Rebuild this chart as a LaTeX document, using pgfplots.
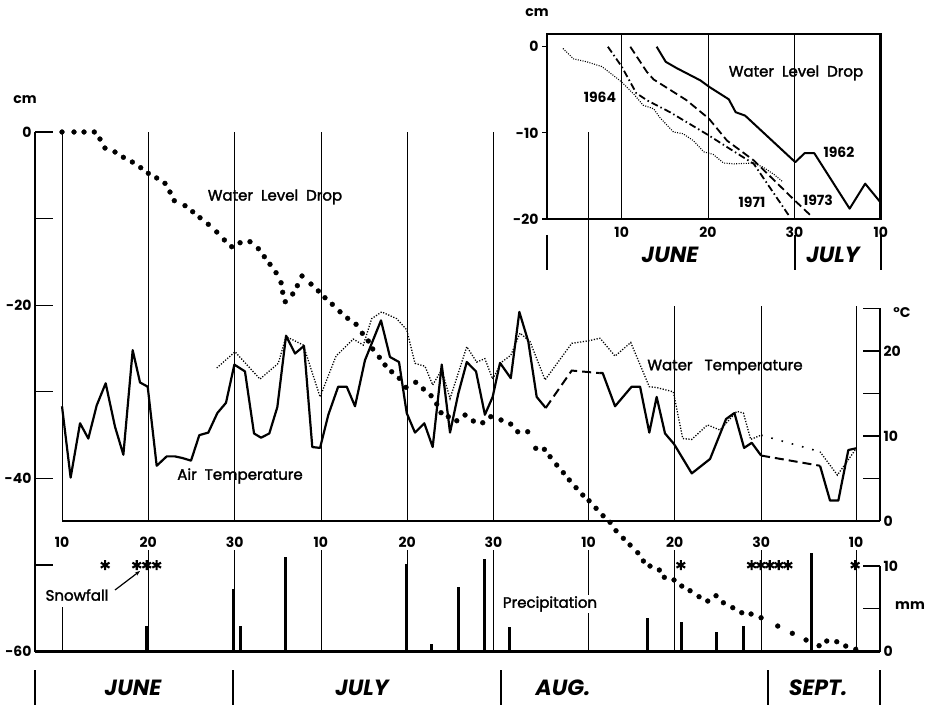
\documentclass[border=0pt]{standalone}
\usepackage{pgfplots}
\pgfplotsset{compat=1.18}
\usepackage{pgfplotstable}
\usepackage{fontspec}
\setmainfont{Poppins}
\newfontfamily\medfont{Poppins}[FakeBold=2]
\usetikzlibrary{arrows.meta}

\pgfplotstableread{
d c
10.00 0
11.39 0
12.55 0
13.74 0
14.40 -0.81
14.98 -1.85
16.14 -2.31
17.11 -2.92
18.15 -3.47
19.12 -4.12
20.00 -4.77
20.97 -5.31
21.93 -5.93
22.51 -6.93
23.01 -7.93
24.25 -8.51
25.14 -9.21
25.99 -9.90
26.95 -10.66
27.93 -11.55
28.81 -12.47
29.66 -13.25
30.63 -12.79
31.78 -12.67
32.75 -13.48
33.44 -14.40
34.10 -15.28
34.80 -16.25
35.38 -17.41
35.57 -18.51
35.87 -19.60
36.73 -18.71
37.27 -17.75
37.81 -16.63
38.85 -17.56
39.70 -18.36
40.47 -19.14
41.32 -19.90
42.21 -20.76
43.10 -21.52
44.07 -22.21
44.80 -23.25
45.49 -24.14
46.00 -25.06
46.77 -26.02
47.43 -26.91
48.20 -27.69
49.08 -28.45
49.86 -29.49
50.98 -28.91
51.87 -29.68
52.76 -30.46
53.42 -31.42
53.92 -32.42
54.76 -32.88
55.74 -33.35
56.70 -32.69
57.66 -33.38
58.75 -33.58
59.68 -32.88
60.87 -33.26
61.99 -33.73
62.80 -34.62
63.96 -34.62
64.89 -36.53
65.89 -36.65
66.55 -37.50
67.32 -38.46
68.09 -39.35
68.78 -40.19
69.56 -41.08
70.34 -41.93
71.07 -42.59
71.88 -43.46
72.69 -44.32
73.50 -45.08
74.19 -46.05
75.04 -46.93
75.82 -47.70
76.71 -48.59
77.36 -49.55
78.13 -50.13
79.21 -50.59
79.79 -51.43
80.91 -51.74
81.81 -52.44
82.77 -52.98
83.81 -53.67
84.82 -54.17
85.78 -53.56
86.63 -54.37
87.72 -54.94
88.76 -55.52
89.84 -55.67
91.00 -56.10
92.93 -57.06
94.62 -57.90
96.21 -58.67
97.72 -59.33
98.61 -58.79
99.77 -58.87
100.81 -59.37
101.97 -59.75
}\waterlevel

\pgfplotstableread{
d t
10.0 13.5
11.0 5.1
12.09 11.5
13.05 9.7
14.02 13.6
15.06 16.2
16.14 11.1
17.11 7.8
18.19 20.1
19.04 16.3
19.93 15.8
20.97 6.5
22.13 7.6
23.09 7.6
23.98 7.4
24.95 7.1
25.91 10.1
26.95 10.4
28.0 12.7
29.0 13.9
29.97 18.4
31.2 17.6
32.25 10.3
33.06 9.8
34.02 10.3
34.95 13.4
35.96 21.8
37.0 19.7
38.04 20.6
39.0 8.7
39.9 8.6
40.86 12.5
42.0 15.8
42.99 15.8
43.95 13.5
45.1 18.9
46.96 23.6
48.0 19.3
49.05 18.7
49.94 12.7
50.9 10.4
51.98 11.5
52.95 8.7
54.0 18.4
54.96 10.4
55.92 15.0
56.9 18.7
57.97 17.6
59.0 12.5
59.9 14.6
60.75 18.6
62.0 16.8
62.99 24.6
64.03 21.1
65.0 14.6
66.05 13.3
}\airA

\pgfplotstableread{
d t
72.3 17.4
72.65 17.4
74.08 13.5
76.0 15.8
76.98 15.8
78.05 10.4
78.9 14.6
79.87 10.3
80.91 9.06
82.97 5.6
85.09 7.3
86.94 12.0
87.91 12.7
89.03 8.6
89.92 9.2
91.0 7.7
}\airB

\pgfplotstableread{
d t
27.93 18.0
30.05 19.9
32.94 16.7
35.06 18.55
35.96 21.7
37.96 20.7
39.9 14.6
41.75 19.4
43.75 21.4
44.91 20.7
45.88 23.8
47.04 24.6
48.78 23.8
49.94 22.5
50.9 18.55
52.06 18.2
52.95 16.0
54.0 17.8
54.96 14.4
56.9 20.5
58.05 18.7
59.0 19.1
59.9 16.7
60.95 18.7
62.0 19.5
63.07 22.1
64.23 21.1
65.97 16.6
69.06 20.9
70.99 21.2
72.34 21.5
74.08 19.4
75.9 21.0
78.05 15.8
78.9 15.7
80.83 15.2
81.92 9.7
82.97 9.6
84.78 11.3
86.25 10.7
88.18 12.9
88.95 12.7
89.8 9.6
91.0 10.1
}\waterT

\begin{document}
\begin{tikzpicture}
\path[use as bounding box] (0pt,0pt) rectangle (928pt,709pt);

\pgfplotsset{
  numfont/.style={font=\fontsize{14}{14}\selectfont\bfseries},
}

% ---------------- cm axis (water level) ----------------
\begin{axis}[
  at={(35pt,57.5pt)}, anchor=south west,
  scale only axis, width=845pt, height=519.5pt,
  xmin=6.871, xmax=104.78, ymin=-60, ymax=0,
  axis x line*=bottom, axis y line*=left,
  x axis line style={line width=2.2pt,-},
  y axis line style={line width=2.8pt,-},
  xtick=\empty,
  ytick={-60,-50,-40,-30,-20,-10,0},
  yticklabels={-60,,-40,,-20,,0},
  tick align=inside, major tick length=18pt,
  tick style={black, line width=1.2pt},
  yticklabel style={numfont},
  clip=false,
]
\pgfplotsinvokeforeach{10,20,30,40,50,60,71}{
  \draw[line width=0.8pt] (axis cs:#1,-44.93) -- (axis cs:#1,0);
}
\pgfplotsinvokeforeach{81,91,102}{
  \draw[line width=0.8pt] (axis cs:#1,-44.93) -- (axis cs:#1,-20.1);
}
\pgfplotsinvokeforeach{20,30,40,50,60,71,81,91,102}{
  \draw[line width=0.8pt] (axis cs:#1,-48.3) -- (axis cs:#1,-60);
}
\draw[line width=0.8pt] (axis cs:10,-54.9) -- (axis cs:10,-60);
\addplot[only marks, mark=*, mark size=2.4pt, black] table[x=d,y=c] {\waterlevel};
\end{axis}

% ---------------- temperature axis ----------------
\begin{axis}[
  at={(62pt,188pt)}, anchor=south west,
  scale only axis, width=818pt, height=212.5pt,
  xmin=10, xmax=104.78, ymin=0, ymax=25,
  axis x line*=bottom, axis y line*=right,
  axis line style={line width=2.2pt,-},
  xtick={10,20,30,40,50,60,71,81,91,102},
  xticklabels={10,20,30,10,20,30,10,20,30,10},
  xtick style={draw=none},
  xticklabel style={numfont, yshift=-13pt},
  ytick={0,5,10,15,20,25}, yticklabels={0,,10,,20,},
  yticklabel style={numfont},
  tick align=inside, major tick length=17pt,
  tick style={black, line width=1.2pt},
  clip=false,
]
\addplot[black, line width=2.2pt, line join=round] table[x=d,y=t] {\airA};
\addplot[black, line width=2.2pt, line join=round] table[x=d,y=t] {\airB};
\addplot[black, line width=2.2pt, line join=round] coordinates {(97.83,6.5) (98.99,2.4) (99.95,2.4) (101.11,8.35) (102.0,8.55)};
\addplot[black, line width=2pt, dash pattern=on 9pt off 5pt] coordinates {(66.05,13.3) (66.93,14.6) (69.06,17.7) (72.3,17.4)};
\addplot[black, line width=2pt, dash pattern=on 9pt off 5pt] coordinates {(91.0,7.7) (97.83,6.5)};
\addplot[black, line width=1.3pt, dash pattern=on 1.2pt off 1.6pt] table[x=d,y=t] {\waterT};
\addplot[black, line width=1.6pt, dash pattern=on 1.6pt off 9pt] coordinates {(91.0,10.1) (97.83,8.15)};
\addplot[black, line width=1.3pt, dash pattern=on 1.2pt off 1.6pt] coordinates {(97.83,8.15) (99.84,5.4) (101.9,8.35)};
\end{axis}

% ---------------- precipitation axis ----------------
\begin{axis}[
  at={(35pt,57.5pt)}, anchor=south west,
  scale only axis, width=845pt, height=85.5pt,
  xmin=6.871, xmax=104.78, ymin=0, ymax=10,
  axis x line=none, axis y line*=right,
  y axis line style={line width=2.2pt,-},
  ytick={0,5,10}, yticklabels={0,,10},
  yticklabel style={numfont},
  tick align=inside, major tick length=17pt,
  tick style={black, line width=1.2pt},
  clip=false,
]
\addplot[ycomb, black, line width=3pt] coordinates {
(19.8,3.0) (29.85,7.3) (30.7,3.0) (35.84,11.0) (49.94,10.2) (52.84,0.9)
(55.92,7.5) (58.9,10.8) (61.83,2.9) (77.83,3.9) (81.81,3.4) (85.78,2.3)
(88.95,3.0) (96.8,11.5)};
\addplot[only marks, black, mark=asterisk, mark size=5pt, mark options={line width=2.1pt}] coordinates {
(15.0,10.1) (18.66,10.1) (19.82,10.1) (20.97,10.1) (81.7,10.1)
(89.9,10.1) (90.95,10.1) (92.0,10.1) (93.05,10.1) (94.1,10.1) (101.9,10.1)};
\end{axis}

% ---------------- inset ----------------
\begin{axis}[
  at={(547pt,490pt)}, anchor=south west,
  scale only axis, width=333.7pt, height=185pt,
  xmin=1.35, xmax=40, ymin=-20, ymax=1.48,
  axis line style={line width=2.5pt},
  xtick={10,20,30,40}, xticklabels={10,20,30,10},
  xtick style={draw=none},
  ytick={-20,-10,0}, yticklabels={-20,-10,0},
  tick align=outside, major tick length=5pt,
  ytick pos=left,
  tick style={black, line width=1.2pt},
  xmajorgrids, grid style={black, line width=0.8pt},
  xticklabel style={numfont, yshift=0pt},
  yticklabel style={numfont},
  clip=false,
]
\addplot[black, line width=2pt, line join=round] coordinates {
(14.05,0) (15.1,-1.75) (16.4,-2.5) (19.1,-3.9) (20.2,-4.7) (22.4,-6.1) (23.2,-7.6)
(24.3,-8.0) (30.1,-13.4) (31.2,-12.35) (32.3,-12.35) (36.4,-18.8) (38.2,-15.9) (40,-18.1)};
\addplot[black, line width=1.8pt, dash pattern=on 8pt off 4pt] coordinates {
(11.0,0) (12.9,-2.9) (13.7,-3.8) (17.5,-6.2) (20.1,-8.35) (22.2,-10.9) (25.3,-13.2) (30.1,-17.9) (32.0,-19.7)};
\addplot[black, line width=1.8pt, dash pattern=on 7pt off 3pt on 1.5pt off 3pt] coordinates {
(8.4,0) (10,-2.3) (11.7,-5.4) (12.9,-6.2) (15.6,-7.6) (19.1,-9.7) (20.1,-10.3) (22.2,-11.65) (25.3,-13.6) (29.5,-19.8)};
\addplot[black, line width=1.1pt, dash pattern=on 1pt off 1.4pt] coordinates {
(3.2,-0.2) (4.4,-1.4) (5.95,-1.75) (7.7,-2.3) (9.0,-3.3) (10,-4.1) (11.35,-5.45) (12.5,-6.8)
(13.7,-7.2) (14.4,-8.2) (16.0,-9.9) (17.1,-10.1) (18.3,-10.9) (19.5,-12.2) (20.6,-12.5)
(21.8,-13.5) (23.0,-13.6) (25.3,-13.5) (26.4,-14.0) (27.6,-14.8) (28.7,-15.7)};
\end{axis}

% ---------------- texts and decorations ----------------
\def\lab{\fontsize{15}{17}\selectfont\medfont}
\def\num{\fontsize{14}{16}\selectfont\bfseries}
\def\mon{\fontsize{22}{24}\selectfont\bfseries\itshape}
\node[font=\num] at (25pt,609pt) {cm};
\node[font=\num] at (537pt,696pt) {cm};
\node[font=\lab] at (275pt,512pt) {Water\ \ Level\ \ Drop};
\node[font=\lab] at (796pt,636pt) {Water\ \ Level\ \ Drop};
\node[font=\lab] at (240pt,233pt) {Air\ \ Temperature};
\node[font=\lab] at (725pt,342pt) {Water\ \ \ Temperature};
\node[font=\lab, fill=white, inner sep=1pt] at (550pt,105pt) {Precipitation};
\node[font=\lab, fill=white, inner sep=1pt] at (77pt,114pt) {Snowfall};
\draw[line width=1.2pt, -{Stealth[length=5pt]}] (115pt,119pt) -- (140pt,138pt);
\node[font=\num] at (600pt,612pt) {1964};
\node[font=\num] at (839pt,557pt) {1962};
\node[font=\num] at (752pt,507pt) {1971};
\node[font=\num] at (818pt,509pt) {1973};
\node[font=\num] at (902pt,396pt) {°C};
\node[font=\num] at (910pt,103pt) {mm};
\node[font=\mon] at (133pt,21pt) {JUNE};
\node[font=\mon] at (362pt,21pt) {JULY};
\node[font=\mon] at (563pt,21pt) {AUG.};
\node[font=\mon] at (818pt,21pt) {SEPT.};
\node[font=\mon] at (670pt,454pt) {JUNE};
\node[font=\mon] at (833pt,454pt) {JULY};
\foreach \x in {35,233,501,768,880} {\draw[line width=2pt] (\x pt,39pt) -- (\x pt,4pt);}
\foreach \x in {547,795,881} {\draw[line width=2pt] (\x pt,474pt) -- (\x pt,439pt);}
\end{tikzpicture}
\end{document}
